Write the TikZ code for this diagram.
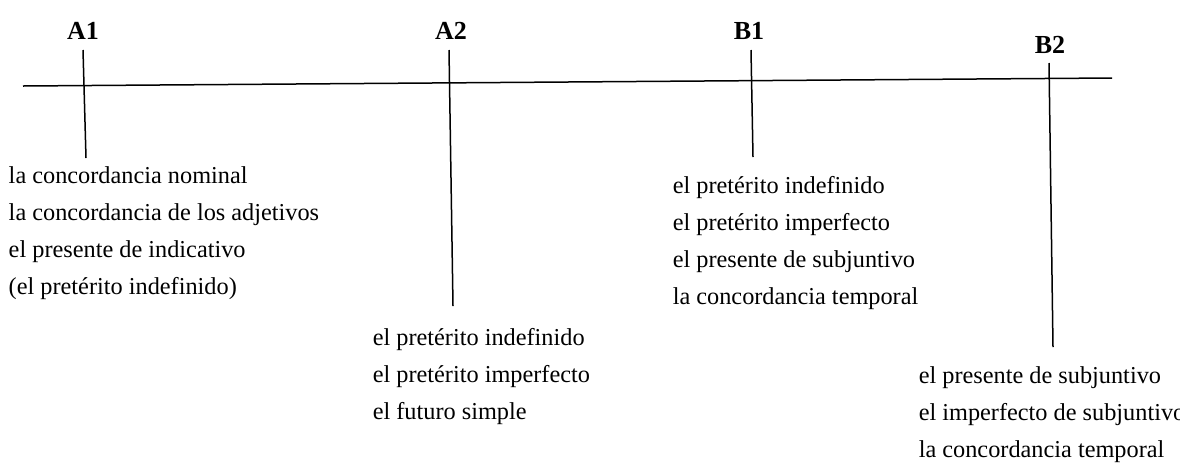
\documentclass[tikz,border=0pt]{standalone}
\usepackage{fontspec}
\setmainfont{Liberation Serif}

\begin{document}
\begin{tikzpicture}[x=1pt,y=-1pt,line width=1.5pt,
    level/.style={font=\fontsize{26}{30}\bfseries, inner sep=0pt, anchor=base},
    item/.style={font=\fontsize{24.3}{28}\selectfont, inner sep=0pt, anchor=base west}]
\useasboundingbox (0,0) rectangle (1180,475);

% the time line
\path (23,86) coordinate (ls) (1112,78) coordinate (le);
\draw (ls) -- (le);

% levels
\node (A1) [level] at (83,39) {A1};
\node (A2) [level] at (451,39) {A2};
\node (B1) [level] at (749,39) {B1};
\node (B2) [level] at (1050,53) {B2};

\path (83,50) coordinate (a1t) (86,158) coordinate (a1b);
\path (449,50) coordinate (a2t) (453,306) coordinate (a2b);
\path (751,50) coordinate (b1t) (753,157) coordinate (b1b);
\path (1049,63) coordinate (b2t) (1053,347) coordinate (b2b);
\draw (a1t) -- (a1b);
\draw (a2t) -- (a2b);
\draw (b1t) -- (b1b);
\draw (b2t) -- (b2b);

% grammar under each level
\foreach \t [count=\i] in {la concordancia nominal,
    la concordancia de los adjetivos,
    el presente de indicativo,
    (el pretérito indefinido)}
  \node (a1\i) [item] at (8,146+37*\i) {\t};
\foreach \t [count=\i] in {el pretérito indefinido,
    el pretérito imperfecto,
    el futuro simple}
  \node (a2\i) [item] at (372,308+37*\i) {\t};
\foreach \t [count=\i] in {el pretérito indefinido,
    el pretérito imperfecto,
    el presente de subjuntivo,
    la concordancia temporal}
  \node (b1\i) [item] at (672,156+37*\i) {\t};
\foreach \t [count=\i] in {el presente de subjuntivo,
    el imperfecto de subjuntivo,
    la concordancia temporal}
  \node (b2\i) [item] at (918,346+37*\i) {\t};

\end{tikzpicture}
\end{document}
